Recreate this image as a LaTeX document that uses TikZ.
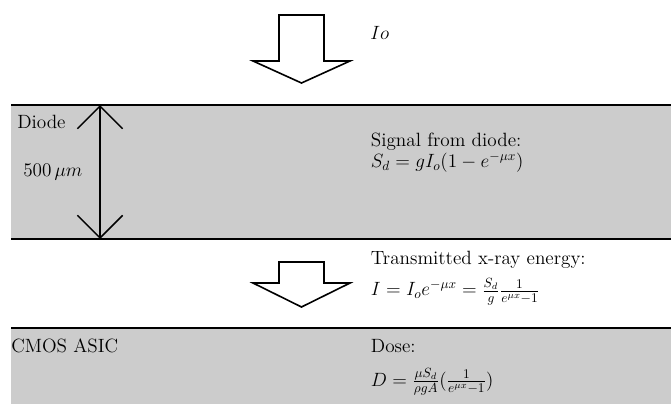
\documentclass[tikz,border=0pt]{standalone}
\usepackage{amsmath}
\usepackage{tikz}
\usetikzlibrary{arrows.meta}

\begin{document}
\begin{tikzpicture}[font=\Large,
    layer/.style={fill=black!20},
    edge/.style={line width=1.5pt},
    blockarrow/.style={draw, fill=white, line width=1.2pt, line join=miter},
    txt/.style={anchor=west, inner sep=0pt}]
  \useasboundingbox (0,0) rectangle (17.687,10.649);
  % Diode layer
  \fill[layer] (0.29,4.349) rectangle (17.687,7.881);
  \draw[edge] (0.29,7.881) -- (17.687,7.881);
  \draw[edge] (0.29,4.349) -- (17.687,4.349);
  % CMOS ASIC layer
  \fill[layer] (0.29,0) rectangle (17.687,2.003);
  \draw[edge] (0.29,2.003) -- (17.687,2.003);
  % Incoming beam
  \draw[blockarrow] (7.354,10.254) -- (8.540,10.254) -- (8.540,9.041)
    -- (9.226,9.041) -- (7.947,8.461) -- (6.669,9.041) -- (7.354,9.041) -- cycle;
  \node[txt] (io) at (9.753,9.779) {$Io$};
  % Transmitted beam
  \draw[blockarrow] (7.354,3.743) -- (8.540,3.743) -- (8.540,3.189)
    -- (9.226,3.189) -- (7.947,2.557) -- (6.669,3.189) -- (7.354,3.189) -- cycle;
  % Thickness
  \coordinate (dtop) at (2.636,7.881);
  \coordinate (dbot) at (2.636,4.349);
  \draw[line width=1.1pt, {Straight Barb[length=17pt,width=34pt]}-{Straight Barb[length=17pt,width=34pt]}]
    (dtop) -- (dbot);
  \node[txt] (diode) at (0.448,7.433) {Diode};
  \node[txt] (thick) at (0.606,6.115) {$500\,\mu m$};
  % Texts on the right
  \node[txt] (signal) at (9.77,6.906) {Signal from diode:};
  \node[txt] (sd) at (9.77,6.37) {$S_d = gI_o(1-e^{-\mu x})$};
  \node[txt] (trans) at (9.77,3.796) {Transmitted x-ray energy:};
  \node[txt] (itrans) at (9.77,2.952)
    {$I = I_oe^{-\mu x} = \frac{S_d}{g}\frac{1}{e^{\mu x}-1}$};
  \node[txt] (asic) at (0.29,1.529) {CMOS ASIC};
  \node[txt] (dose) at (9.77,1.529) {Dose:};
  \node[txt] (dform) at (9.77,0.580)
    {$D = \frac{\mu S_d}{\rho g A}(\frac{1}{e^{\mu x}-1})$};
\end{tikzpicture}
\end{document}
